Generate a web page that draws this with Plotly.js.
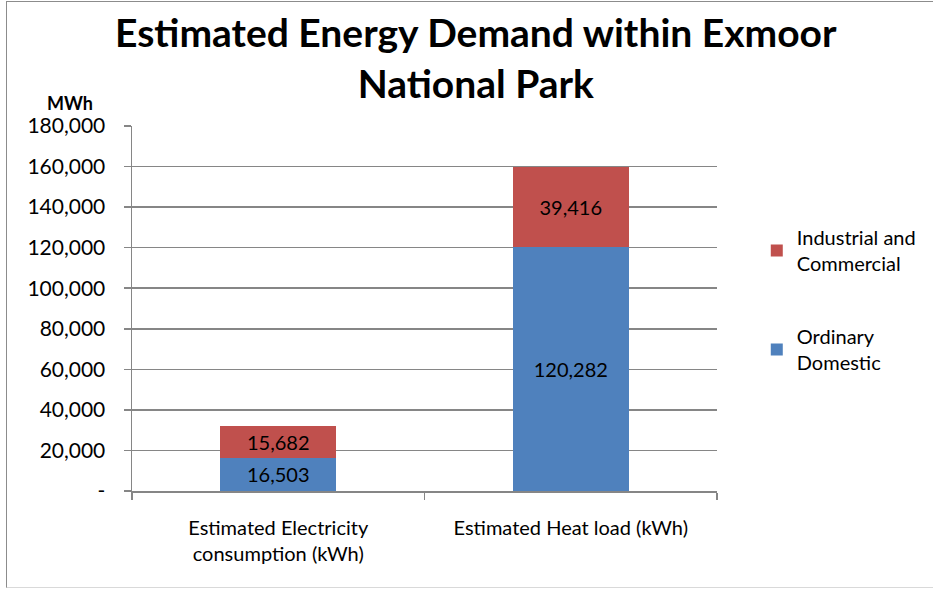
<!DOCTYPE html>
<html><head><meta charset="utf-8">
<script src="https://cdn.plot.ly/plotly-3.0.1.min.js"></script>
<style>
html,body{margin:0;padding:0;background:#fff;}
#wrap{position:relative;width:933px;height:590px;}
#frame{position:absolute;left:6px;top:1px;width:940px;height:587px;border-left:1.5px solid #8c8c8c;border-top:1.5px solid #8c8c8c;border-bottom:1.5px solid #d9d9d9;pointer-events:none;box-sizing:border-box;}
#chart{position:absolute;left:0;top:0;width:933px;height:590px;}
</style></head>
<body>
<div id="wrap"><div id="chart"></div><div id="frame"></div></div>
<script>
const categories = ["Estimated Electricity<br>consumption (kWh)", "Estimated Heat load (kWh)"];
const domestic = [16503, 120282];
const industrial = [15682, 39416];
const seriesNames = ["Ordinary<br>Domestic", "Industrial and<br>Commercial"];
const yTickVals = [0, 20000, 40000, 60000, 80000, 100000, 120000, 140000, 160000, 180000];
const yTickText = ["-", "20,000", "40,000", "60,000", "80,000", "100,000", "120,000", "140,000", "160,000", "180,000"];

const FONT = "Lato, 'Open Sans', sans-serif";
const fmt = v => v.toLocaleString('en-US');

const traces = [
  {type:'bar', name:seriesNames[0], x:categories, y:domestic, legendrank:2, legendgroup:'dom',
   marker:{color:'#4F81BD'}, text:domestic.map(fmt), textposition:'inside',
   insidetextanchor:'middle', constraintext:'none', textangle:0,
   textfont:{color:'#000', size:20, family:FONT}, hoverinfo:'skip'},
  {type:'bar', name:seriesNames[1], x:categories, y:industrial, legendrank:1, legendgroup:'ind',
   marker:{color:'#C0504D'}, text:industrial.map(fmt), textposition:'inside',
   insidetextanchor:'middle', constraintext:'none', textangle:0,
   textfont:{color:'#000', size:20, family:FONT}, hoverinfo:'skip'}
];

const layout = {
  width:933, height:590,
  margin:{l:132, r:213, t:126, b:99},
  paper_bgcolor:'rgba(0,0,0,0)', plot_bgcolor:'rgba(0,0,0,0)',
  font:{family:FONT, size:20, color:'#000'},
  barmode:'stack', bargap:0.605,
  xaxis:{type:'category', showline:true, linecolor:'#868686', linewidth:1.5,
    ticks:'outside', ticklen:7, tickcolor:'#868686', tickwidth:1.5, tickson:'boundaries',
    ticklabelstandoff:18,
    showgrid:false, tickfont:{size:20, family:FONT}, fixedrange:true},
  yaxis:{range:[0,180000], tickvals:yTickVals, ticktext:yTickText,
    showgrid:true, gridcolor:'#868686', gridwidth:1.5, zeroline:false,
    showline:true, linecolor:'#868686', linewidth:1.5,
    ticks:'outside', ticklen:7, tickcolor:'#868686', tickwidth:1.5,
    ticklabelstandoff:14, tickfont:{size:21, family:FONT}, fixedrange:true},
  legend:{x:1.068, xanchor:'left', y:0.748, yanchor:'top',
    traceorder:'grouped', tracegroupgap:44,
    font:{size:20, family:FONT}, itemwidth:30, bgcolor:'rgba(0,0,0,0)'},
  annotations:[
    {text:'<b>Estimated Energy Demand within Exmoor<br>National Park</b>', xref:'paper', yref:'paper',
     x:(478-132)/588, y:(491-57)/365, xanchor:'center', yanchor:'middle', showarrow:false,
     font:{size:39, family:FONT, color:'#000'}},
    {text:'<b>MWh</b>', xref:'paper', yref:'paper', x:(70-132)/588, y:(491-103)/365,
    xanchor:'center', yanchor:'middle', showarrow:false, font:{size:18, family:FONT}}],
  showlegend:true
};
Plotly.newPlot('chart', traces, layout, {displayModeBar:false, staticPlot:true});
</script>
</body></html>
